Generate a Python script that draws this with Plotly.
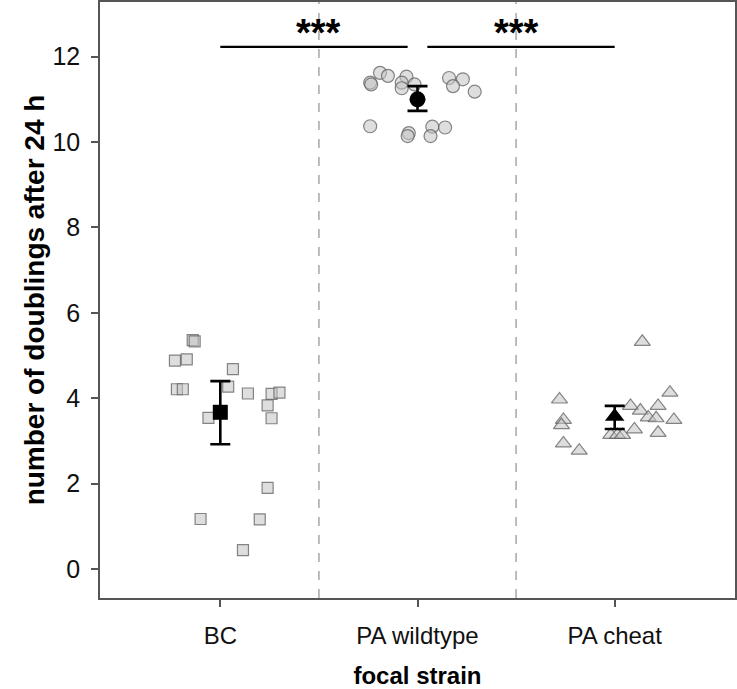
import plotly.graph_objects as go

categories = ["BC", "PA wildtype", "PA cheat"]

# individual replicate values (number of doublings) and horizontal jitter offsets (category units)
bc_values = [5.36, 5.33, 4.88, 4.91, 4.68, 4.21, 4.21, 4.27, 4.11, 4.10, 4.13,
             3.83, 3.53, 3.54, 1.90, 1.17, 1.16, 0.44]
bc_jitter = [-0.14, -0.13, -0.23, -0.17, 0.064, -0.22, -0.19, 0.04, 0.14, 0.26, 0.30,
             0.24, 0.26, -0.06, 0.24, -0.10, 0.20, 0.115]

wt_values = [11.39, 11.35, 11.62, 11.55, 11.53, 11.39, 11.26, 11.35, 11.50, 11.47,
             11.31, 11.18, 10.37, 10.21, 10.14, 10.36, 10.34, 10.14]
wt_jitter = [-0.24, -0.235, -0.19, -0.15, -0.056, -0.08, -0.08, -0.015, 0.16, 0.23,
             0.18, 0.29, -0.24, -0.044, -0.05, 0.075, 0.14, 0.066]

ch_values = [3.97, 3.49, 3.37, 2.94, 2.77, 5.32, 4.13, 3.82, 3.71, 3.82, 3.55, 3.53,
             3.49, 3.27, 3.19, 3.14, 3.14, 3.14]
ch_jitter = [-0.28, -0.26, -0.27, -0.26, -0.18, 0.14, 0.28, 0.08, 0.13, 0.22, 0.17, 0.21,
             0.30, 0.10, 0.22, -0.02, 0.014, 0.04]

# group means with error bar limits
means = [3.67, 11.00, 3.57]
err_upper = [4.40, 11.31, 3.82]
err_lower = [2.92, 10.73, 3.28]

sig_pairs = [(0, 1), (1, 2)]
sig_labels = ["***", "***"]
sig_level = 12.23

point_symbols = ["square", "circle", "triangle-up"]
point_sizes = [11, 13, 14]
mean_sizes = [15, 16, 17]

fig = go.Figure()

groups = [(bc_values, bc_jitter), (wt_values, wt_jitter), (ch_values, ch_jitter)]
for i, (vals, jit) in enumerate(groups):
    fig.add_trace(go.Scatter(
        x=[i + j for j in jit], y=vals, mode="markers",
        marker=dict(symbol=point_symbols[i], size=point_sizes[i],
                    color="rgba(195,195,195,0.55)",
                    line=dict(color="rgba(95,95,95,0.75)", width=1.2)),
        showlegend=False, hoverinfo="y"))

for i in range(3):
    fig.add_trace(go.Scatter(
        x=[i], y=[means[i]], mode="markers",
        marker=dict(symbol=point_symbols[i], size=mean_sizes[i], color="black",
                    line=dict(color="black", width=0)),
        error_y=dict(type="data", symmetric=False,
                     array=[err_upper[i] - means[i]],
                     arrayminus=[means[i] - err_lower[i]],
                     color="black", thickness=2.6, width=10),
        showlegend=False))

shapes = []
for b in [0.5, 1.5]:
    shapes.append(dict(type="line", xref="x", yref="paper", x0=b, x1=b, y0=0, y1=1,
                       line=dict(color="#b5b5b5", width=1.8, dash="dash"), layer="below"))

annotations = []
for (a, b), lab in zip(sig_pairs, sig_labels):
    x0 = a + (0.05 if a > 0 else 0)
    x1 = b - (0.05 if b < 2 else 0)
    shapes.append(dict(type="line", xref="x", yref="y", x0=x0, x1=x1,
                       y0=sig_level, y1=sig_level, line=dict(color="black", width=2.2)))
    annotations.append(dict(x=(a + b) / 2, y=sig_level, xref="x", yref="y",
                            text="<b>" + lab + "</b>", showarrow=False,
                            yanchor="bottom", yshift=-9,
                            font=dict(size=38, color="black", family="Liberation Sans")))

fig.update_layout(
    width=737, height=689,
    margin=dict(l=100, r=2, t=2, b=91),
    plot_bgcolor="white", paper_bgcolor="white",
    font=dict(family="Liberation Sans, Arial, sans-serif", color="black"),
    shapes=shapes, annotations=annotations,
    xaxis=dict(range=[-0.61, 2.61], tickvals=[0, 1, 2], ticktext=categories,
               showgrid=False, zeroline=False, showline=True, linecolor="#555",
               linewidth=1.5, mirror=True, ticks="outside", ticklen=7, tickwidth=1.5,
               tickcolor="#555", tickfont=dict(size=24, color="#111"), automargin=False,
               ticklabelstandoff=8,
               title=dict(text="<b>focal strain</b>", font=dict(size=24), standoff=27)),
    yaxis=dict(range=[-0.68, 13.28], tickvals=[0, 2, 4, 6, 8, 10, 12],
               showgrid=False, zeroline=False, showline=True, linecolor="#555",
               linewidth=1.5, mirror=True, ticks="outside", ticklen=7, tickwidth=1.5,
               tickcolor="#555", tickfont=dict(size=25, color="#111"), automargin=False,
               ticklabelstandoff=6,
               title=dict(text="<b>number of doublings after 24 h</b>",
                          font=dict(size=28), standoff=0)),
)

fig.write_html("out.html", config={"displayModeBar": False},
               post_script="document.body.style.margin='0';")
